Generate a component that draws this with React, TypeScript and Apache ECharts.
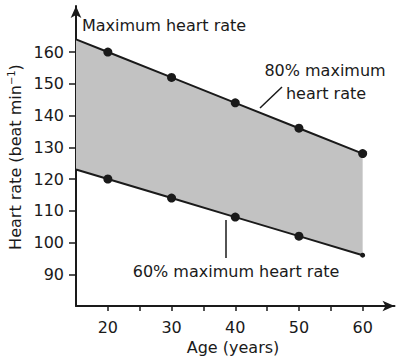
import React, { useEffect, useRef } from "react";
import * as echarts from "echarts";

const ages = [15, 20, 30, 40, 50, 60];
const upper80 = [164, 160, 152, 144, 136, 128];
const lower60 = [123, 120, 114, 108, 102, 96];
const xTickValues = [20, 25, 30, 35, 40, 45, 50, 55, 60];
const xLabelValues = [20, 30, 40, 50, 60];
const yTickValues = [90, 100, 110, 120, 130, 140, 150, 160];

const FONT = "DejaVu Sans";
const INK = "#1a1a1a";

export default function App() {
  const ref = useRef<HTMLDivElement>(null);
  useEffect(() => {
    if (!ref.current) return;
    const chart = echarts.init(ref.current, undefined, { renderer: "svg" });
    const upperData = ages.map((a, i) => ({
      value: [a, upper80[i]],
      symbol: i === 0 ? "none" : "circle",
    }));
    const lowerData = ages.map((a, i) => ({
      value: [a, lower60[i]],
      symbol: i === 0 ? "none" : "circle",
      symbolSize: i === ages.length - 1 ? 5 : 9,
    }));
    chart.setOption({
      animation: false,
      backgroundColor: "#ffffff",
      textStyle: { fontFamily: FONT },
      grid: { left: 76, right: 5.5, top: 6, bottom: 55, outerBoundsMode: "none" },
      xAxis: {
        type: "value",
        min: 15,
        max: 65,
        splitLine: { show: false },
        axisLine: {
          lineStyle: { color: INK, width: 2 },
          symbol: ["none", "arrow"],
          symbolSize: [8, 12],
        },
        axisTick: {
          customValues: xTickValues,
          length: 5,
          lineStyle: { color: INK, width: 1.5 },
        },
        axisLabel: {
          customValues: xLabelValues,
          margin: 13,
          fontSize: 16,
          fontFamily: FONT,
          color: INK,
        },
      },
      yAxis: {
        type: "value",
        min: 80,
        max: 174.5,
        splitLine: { show: false },
        axisLine: {
          lineStyle: { color: INK, width: 2 },
          symbol: ["none", "arrow"],
          symbolSize: [8, 12],
        },
        axisTick: {
          customValues: yTickValues,
          length: 7,
          lineStyle: { color: INK, width: 1.5 },
        },
        axisLabel: {
          customValues: yTickValues,
          margin: 12,
          fontSize: 16,
          fontFamily: FONT,
          color: INK,
        },
      },
      series: [
        {
          type: "custom",
          silent: true,
          z: 1,
          data: [[ages[0], upper80[0]]],
          renderItem: (params: any, api: any) => {
            const top = ages.map((a, i) => api.coord([a, upper80[i]]));
            const bot = ages.map((a, i) => api.coord([a, lower60[i]])).reverse();
            return {
              type: "polygon",
              shape: { points: top.concat(bot) },
              style: { fill: "#c2c2c2" },
            };
          },
        },
        {
          type: "line",
          z: 3,
          data: upperData,
          symbolSize: 9,
          showSymbol: true,
          lineStyle: { color: INK, width: 2 },
          itemStyle: { color: INK },
        },
        {
          type: "line",
          z: 3,
          data: lowerData,
          symbolSize: 9,
          showSymbol: true,
          lineStyle: { color: INK, width: 2 },
          itemStyle: { color: INK },
        },
      ],
      graphic: [
        {
          type: "text",
          x: 82,
          y: 25,
          style: {
            text: "Maximum heart rate",
            font: `16px "${FONT}"`,
            fill: INK,
            verticalAlign: "middle",
          },
        },
        {
          type: "text",
          x: 325,
          y: 70,
          style: {
            text: "80% maximum",
            font: `16px "${FONT}"`,
            fill: INK,
            align: "center",
            verticalAlign: "middle",
          },
        },
        {
          type: "text",
          x: 326,
          y: 93,
          style: {
            text: "heart rate",
            font: `16px "${FONT}"`,
            fill: INK,
            align: "center",
            verticalAlign: "middle",
          },
        },
        {
          type: "line",
          shape: { x1: 260, y1: 108, x2: 282, y2: 87 },
          style: { stroke: INK, lineWidth: 1.5 },
        },
        {
          type: "text",
          x: 183,
          y: 143,
          style: {
            text: "Training zone",
            font: `16px "${FONT}"`,
            fill: INK,
            align: "center",
            verticalAlign: "middle",
          },
        },
        {
          type: "text",
          x: 236,
          y: 271,
          style: {
            text: "60% maximum heart rate",
            font: `16px "${FONT}"`,
            fill: INK,
            align: "center",
            verticalAlign: "middle",
          },
        },
        {
          type: "line",
          shape: { x1: 226, y1: 220, x2: 226, y2: 258 },
          style: { stroke: INK, lineWidth: 1.5 },
        },
        {
          type: "text",
          x: 233,
          y: 347,
          style: {
            text: "Age (years)",
            font: `16px "${FONT}"`,
            fill: INK,
            align: "center",
            verticalAlign: "middle",
          },
        },
        {
          type: "text",
          x: 15,
          y: 157,
          rotation: Math.PI / 2,
          style: {
            text: "Heart rate (beat min{sup|−1})",
            font: `16px "${FONT}"`,
            fill: INK,
            align: "center",
            verticalAlign: "middle",
            rich: {
              sup: {
                fontSize: 10,
                fontFamily: FONT,
                verticalAlign: "top",
                padding: [0, 0, 8, 0],
                fill: INK,
              },
            },
          },
        },
      ],
    });
    return () => chart.dispose();
  }, []);
  return (
    <div
      ref={ref}
      style={{ position: "fixed", left: 0, top: 0, width: 400, height: 361 }}
    />
  );
}
